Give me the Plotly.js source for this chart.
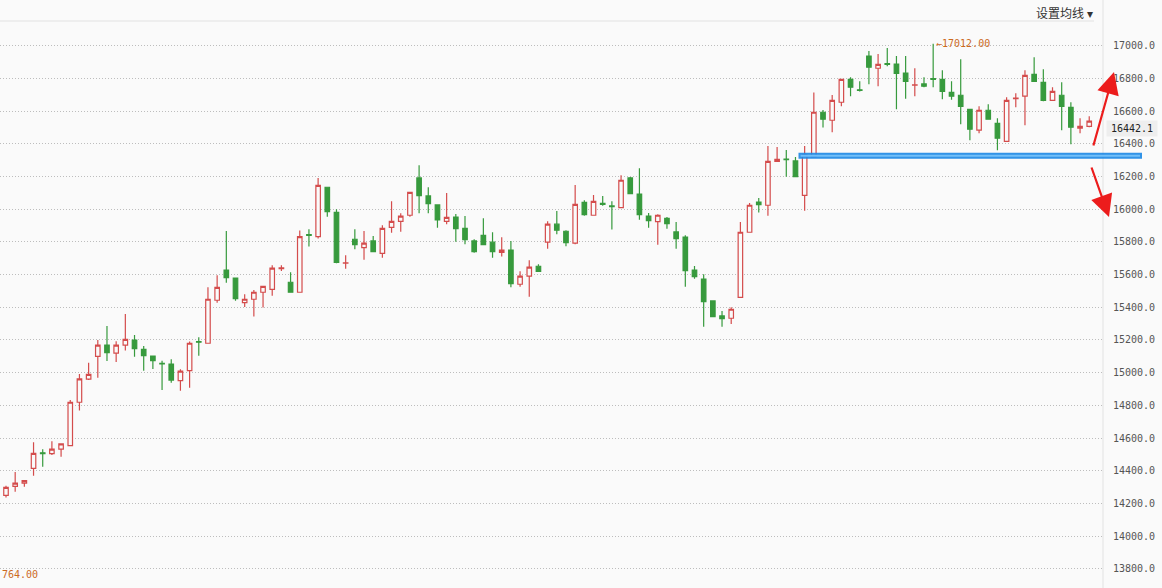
<!DOCTYPE html>
<html>
<head>
<meta charset="utf-8">
<script src="https://cdn.plot.ly/plotly-3.0.1.min.js"></script>
<style>
  html, body { margin: 0; padding: 0; background: #fafafa; }
  #chart { width: 1162px; height: 588px; }
</style>
</head>
<body>
<div id="chart"></div>
<script>
// daily candles
let opens  = [14249,14305,14324,14415,14510,14505,14532,14554,14819,14960,15100,15169,15119,15168,15200,15143,15102,15057,15053,14951,
              15012,15190,15180,15443,15628,15579,15428,15449,15492,15510,15637,15553,15492,15845,15832,16134,15981,15670,15816,15765,
              15806,15730,15889,15926,15963,16191,16081,16026,15926,15952,15883,15806,15840,15798,15736,15750,15541,15590,15651,15798,
              15908,15865,15792,16042,15963,16036,16020,16009,16191,16093,15958,15924,15944,15861,15830,15628,15573,15439,15347,15333,
              15461,15859,16044,16024,16293,16307,16295,16085,16321,16593,16544,16654,16794,16730,16937,16862,16890,16888,16833,16758,
              16766,16798,16794,16715,16697,16611,16484,16605,16525,16415,16676,16691,16825,16776,16666,16697,16623,16495,16507];
let highs  = [14309,14393,14342,14574,14532,14581,14568,14833,14992,15061,15200,15286,15192,15359,15231,15163,15102,15073,15082,15021,
              15190,15216,15522,15596,15867,15579,15480,15506,15528,15657,15657,15614,15869,15877,16191,16134,16000,15718,15877,15867,
              15836,15901,16048,15975,16103,16269,16134,16026,16099,15971,15958,15816,15944,15859,15828,15806,15620,15688,15663,15926,
              15989,15871,16148,16054,16087,16081,16048,16207,16197,16250,15977,15969,15952,15922,15840,15653,15602,15439,15378,15400,
              15922,16038,16069,16387,16380,16362,16319,16387,16713,16607,16698,16794,16807,16782,16968,16949,16986,16937,16937,16862,
              16807,17012,16850,16782,16917,16611,16629,16642,16556,16684,16709,16850,16929,16856,16746,16776,16654,16556,16568];
let lows   = [14236,14272,14303,14370,14425,14497,14486,14554,14768,14955,14969,15072,15066,15135,15098,15012,15023,14894,14939,14890,
              14908,15104,15180,15428,15550,15440,15402,15343,15398,15471,15622,15492,15492,15771,15820,15954,15669,15636,15755,15691,
              15740,15703,15856,15862,15954,15975,15975,15887,15908,15801,15785,15734,15783,15703,15710,15522,15526,15465,15620,15758,
              15847,15773,15785,15960,15963,16021,15875,16009,16095,15936,15887,15783,15881,15758,15526,15575,15281,15343,15281,15298,
              15461,15859,15979,15960,16293,16199,16195,15991,16321,16499,16470,16629,16691,16720,16764,16752,16874,16611,16676,16691,
              16746,16746,16672,16670,16519,16421,16464,16550,16360,16415,16623,16513,16782,16660,16666,16483,16397,16464,16501];
let closes = [14299,14324,14340,14507,14505,14532,14564,14819,14962,14990,15168,15122,15168,15204,15147,15104,15073,15053,14955,15010,
              15180,15186,15449,15522,15581,15453,15449,15492,15528,15639,15641,15492,15832,15840,16146,15985,15675,15672,15783,15792,
              15740,15883,15926,15957,16103,16083,16034,15934,15950,15881,15813,15740,15783,15740,15750,15544,15590,15645,15620,15908,
              15871,15795,16030,15966,16048,16030,16015,16177,16095,15966,15930,15963,15911,15820,15624,15587,15434,15343,15330,15388,
              15859,16024,16028,16293,16305,16303,16199,16332,16593,16550,16666,16794,16746,16726,16868,16886,16886,16831,16782,16760,
              16752,16794,16721,16691,16629,16489,16605,16550,16434,16666,16680,16819,16782,16666,16721,16629,16501,16507,16538];

let yTicks = [13800,14000,14200,14400,14600,14800,15000,15200,15400,15600,15800,16000,16200,16400,16600,16800,17000];
let highMark = 17012.00;
let lowMark = 13764.00;
let lastPrice = 16442.1;
let supportLevel = 16327;

let idx = opens.map((v, i) => i);
let yMin = 13683, yMax = 17151;

// plot box in pixels: left 0, right 1103, top 21, bottom 588
let plotW = 1103, plotH = 567, plotTop = 21;
function px(x) { return x / plotW; }
function py(y) { return (plotTop + plotH - y) / plotH; }

let red = '#d44c4c';
let green = '#379a3d';
let orange = '#cc6a1e';
let monoFont = 'DejaVu Sans Mono, Liberation Mono, monospace';

let candles = {
    type: 'candlestick',
    x: idx,
    open: opens, high: highs, low: lows, close: closes,
    increasing: {line: {color: red, width: 1.2}, fillcolor: '#fafafa'},
    decreasing: {line: {color: green, width: 1.2}, fillcolor: green},
    whiskerwidth: 0,
    hoverinfo: 'skip',
    showlegend: false
};

// the hand-drawn support line runs past the axis line, so it is drawn as
// arrow-less annotation lines (these are not clipped to the plot box)
function supportLine(width, color, shrink) {
    return {xref: 'paper', yref: 'y', x: px(1142 - shrink), y: supportLevel,
            ax: -(1142 - 797 - 2 * shrink), ay: 0, text: '',
            showarrow: true, arrowhead: 0, arrowwidth: width, arrowcolor: color};
}

let layout = {
    width: 1162, height: 588,
    margin: {l: 0, r: 59, t: 21, b: 0},
    paper_bgcolor: '#fafafa',
    plot_bgcolor: '#fafafa',
    showlegend: false,
    xaxis: {
        range: [-0.654, 119.5],
        visible: false,
        rangeslider: {visible: false},
        fixedrange: true
    },
    yaxis: {
        side: 'right',
        range: [yMin, yMax],
        tickvals: yTicks,
        tickformat: '.1f',
        ticks: '',
        ticklabelstandoff: 9,
        tickfont: {family: monoFont, size: 10, color: '#555'},
        showgrid: true,
        gridcolor: '#bdbdbd',
        griddash: '1px,2px',
        gridwidth: 1,
        zeroline: false,
        showline: false,
        fixedrange: true
    },
    shapes: [
        {type: 'line', xref: 'paper', yref: 'paper', x0: 0, x1: px(1094), y0: 1, y1: 1,
         line: {color: '#eaeaea', width: 1.5}},
        {type: 'line', xref: 'paper', yref: 'paper', x0: 1, x1: 1, y0: 0, y1: py(0),
         line: {color: '#e2e2e2', width: 1}}
    ],
    annotations: [
        supportLine(6, 'rgba(28,136,230,0.9)', 0),
        supportLine(2, 'rgba(120,196,252,0.9)', 2),
        {xref: 'paper', yref: 'paper', x: px(1034), y: py(12), xanchor: 'left', yanchor: 'middle',
         text: '设置均线 ▾', showarrow: false,
         font: {family: 'Noto Sans CJK SC', size: 12, color: '#333'}},
        {xref: 'x', yref: 'y', x: 101, y: highMark, xanchor: 'left', yanchor: 'middle', xshift: 1,
         text: '←' + highMark.toFixed(2), showarrow: false,
         font: {family: monoFont, size: 10, color: orange}},
        {xref: 'paper', yref: 'y', x: 0, y: lowMark, xanchor: 'left', yanchor: 'middle',
         text: lowMark.toFixed(2).slice(2), showarrow: false,
         font: {family: monoFont, size: 10, color: orange}},
        {xref: 'paper', yref: 'paper', x: px(1106), y: py(128.5), xanchor: 'left', yanchor: 'middle',
         text: lastPrice.toFixed(1), showarrow: false, bgcolor: '#eeeeee', borderpad: 2,
         width: 46, height: 11, align: 'center',
         font: {family: monoFont, size: 10, color: '#222'}},
        // red arrows
        {xref: 'paper', yref: 'paper', x: px(1114), y: py(72), ax: -21, ay: 75, text: '',
         showarrow: true, arrowhead: 2, arrowsize: 2, arrowwidth: 2.2, arrowcolor: '#ec1c1c'},
        {xref: 'paper', yref: 'paper', x: px(1109), y: py(217), ax: -18, ay: -51, text: '',
         showarrow: true, arrowhead: 2, arrowsize: 2, arrowwidth: 2.2, arrowcolor: '#ec1c1c'}
    ]
};

let drawChart = document.getElementById('chart');
Plotly.newPlot(drawChart, [candles], layout, {displayModeBar: false, staticPlot: true});
</script>
</body>
</html>
